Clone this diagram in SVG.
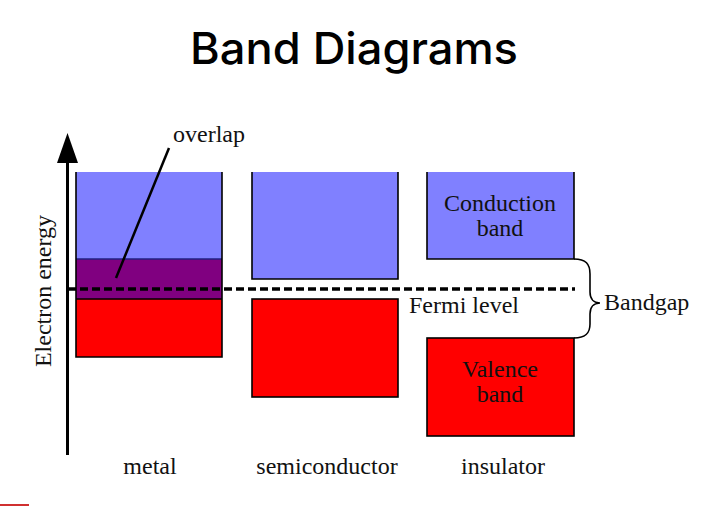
<svg xmlns="http://www.w3.org/2000/svg" width="715" height="506" viewBox="0 0 715 506">
<style>
.t{font-family:"Liberation Serif","Times New Roman",serif;font-size:24px;fill:#111}
.edge{fill:none;stroke:#000;stroke-width:1.6}
.blue{fill:#8080ff}
.red{fill:#ff0000}
.purple{fill:#800080}
</style>
<rect width="715" height="506" fill="#fff"/>
<text x="354" y="64" text-anchor="middle" font-family="Inter,'Open Sans',sans-serif" font-weight="500" font-size="44" textLength="328" lengthAdjust="spacingAndGlyphs" fill="#000">Band Diagrams</text>

<g id="axis">
<line x1="67.5" y1="160" x2="67.5" y2="455" stroke="#000" stroke-width="3"/>
<polygon points="67.5,133 57,163 78,163" fill="#000"/>
<text class="t" transform="translate(51,291) rotate(-90)" text-anchor="middle">Electron energy</text>
</g>

<g id="metal">
<rect class="blue" x="76" y="172" width="146" height="87"/>
<rect class="purple" x="76" y="259" width="146" height="40"/>
<rect class="red" x="76" y="299" width="146" height="58"/>
<line x1="76" y1="259" x2="222" y2="259" stroke="#202080" stroke-width="1.6"/>
<path class="edge" d="M76,172 V357 H222 V172 M76,299 H222"/>
<text class="t" x="150" y="474" text-anchor="middle">metal</text>
</g>

<g id="semiconductor">
<rect class="blue" x="252" y="172" width="146" height="107"/>
<path class="edge" d="M252,172 V279 H398 V172"/>
<rect class="red" x="252" y="299" width="146" height="98" stroke="#000" stroke-width="1.6"/>
<text class="t" x="327" y="474" text-anchor="middle">semiconductor</text>
</g>

<g id="insulator">
<rect class="blue" x="427" y="172" width="147" height="87"/>
<path class="edge" d="M427,172 V259 H574 V172"/>
<text class="t" x="500" y="211" text-anchor="middle" fill="#1a1a45">Conduction</text>
<text class="t" x="500" y="236" text-anchor="middle" fill="#1a1a45">band</text>
<rect class="red" x="427" y="338" width="147" height="98" stroke="#000" stroke-width="1.6"/>
<text class="t" x="500" y="377" text-anchor="middle" fill="#3a0000">Valence</text>
<text class="t" x="500" y="402" text-anchor="middle" fill="#3a0000">band</text>
<text class="t" x="503" y="474" text-anchor="middle">insulator</text>
</g>

<g id="connectors">
<line x1="68" y1="289" x2="575" y2="289" stroke="#000" stroke-width="3.5" stroke-dasharray="8,4"/>
<line x1="169" y1="148" x2="116" y2="278" stroke="#000" stroke-width="2.5"/>
<path d="M574,259 C586,259 590,264 590,274 V292 C590,299 594,303 600,303 C594,303 590,307 590,314 V324 C590,333 586,338 574,338" fill="none" stroke="#000" stroke-width="1.6"/>
</g>

<g id="labels">
<text class="t" x="173" y="142">overlap</text>
<text class="t" x="409" y="313">Fermi level</text>
<text class="t" x="604" y="310">Bandgap</text>
</g>

<rect x="0" y="504" width="29" height="2" fill="#d03030"/>
</svg>
